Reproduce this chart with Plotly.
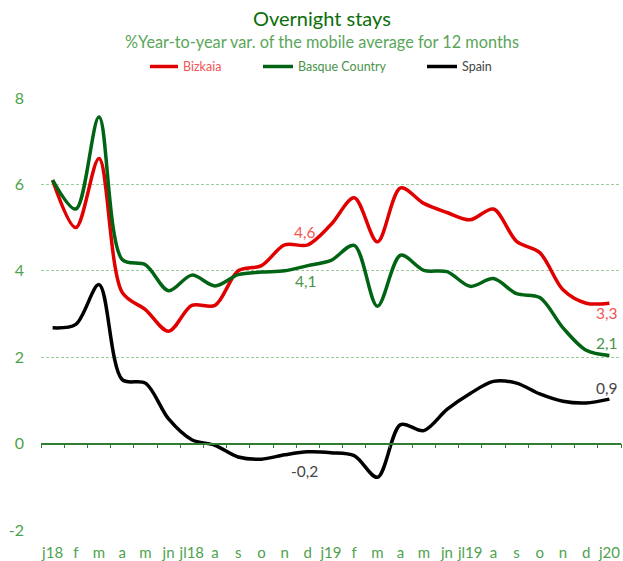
import plotly.graph_objects as go

months = ["j18", "f", "m", "a", "m", "jn", "jl18", "a", "s", "o", "n", "d",
          "j19", "f", "m", "a", "m", "jn", "jl19", "a", "s", "o", "n", "d", "j20"]

bizkaia = [6.1, 5.0, 6.6, 3.5, 3.1, 2.6, 3.2, 3.2, 4.0, 4.12, 4.6, 4.6,
           5.07, 5.69, 4.67, 5.92, 5.56, 5.35, 5.18, 5.43, 4.68, 4.42, 3.56, 3.25, 3.25]
basque = [6.1, 5.43, 7.56, 4.26, 4.14, 3.54, 3.9, 3.65, 3.91, 3.97, 4.0, 4.12,
          4.24, 4.59, 3.18, 4.36, 4.01, 3.98, 3.64, 3.82, 3.47, 3.38, 2.68, 2.16, 2.04]
spain = [2.68, 2.76, 3.68, 1.48, 1.4, 0.57, 0.09, -0.04, -0.31, -0.36, -0.26, -0.19,
         -0.21, -0.28, -0.78, 0.44, 0.3, 0.79, 1.16, 1.44, 1.4, 1.15, 0.98, 0.94, 1.03]

y_ticks = [-2, 0, 2, 4, 6, 8]

names = ["Bizkaia", "Basque Country", "Spain"]
line_colors = ["#e00000", "#006414", "#000000"]
text_colors = ["#f25555", "#4a944a", "#454545"]

FONT = "Lato, 'Open Sans', sans-serif"
GRID = "#9ccb9c"
AXIS_LINE = "#2e7d32"
TICK_TEXT = "#4ea24e"

W, H = 623, 561
ML, MR, MT, MB = 41, 2, 98, 31
PW, PH = W - ML - MR, H - MT - MB


def fx(px):
    return (px - ML) / PW


def fy(py):
    return (H - MB - py) / PH


x = list(range(len(months)))
fig = go.Figure()
for name, vals, lc in zip(names, [bizkaia, basque, spain], line_colors):
    fig.add_trace(go.Scatter(
        x=x, y=vals, mode="lines", name=name, showlegend=False,
        line=dict(color=lc, width=3.5, shape="spline", smoothing=0.9),
        hoverinfo="skip",
    ))

# invisible trace so the x-axis line at y=0 with boundary ticks is drawn
fig.add_trace(go.Scatter(x=x, y=[None] * len(x), xaxis="x2", showlegend=False,
                         hoverinfo="skip"))

# data labels
labels = [
    (11, bizkaia[11], "4,6", text_colors[0], -3, 13),
    (11, basque[11], "4,1", text_colors[1], -2, -15),
    (11, spain[11], "-0,2", text_colors[2], -3, -19),
    (24, bizkaia[24], "3,3", text_colors[0], -2, -10),
    (24, basque[24], "2,1", text_colors[1], -2, 12),
    (24, spain[24], "0,9", text_colors[2], -2, 11),
]
for xi, yv, txt, col, xs, ys in labels:
    fig.add_annotation(x=xi, y=yv, text=txt, showarrow=False, xshift=xs, yshift=ys,
                       font=dict(family=FONT, size=15.5, color=col))

# titles
fig.add_annotation(xref="paper", yref="paper", x=fx(322), y=fy(18), text="Overnight stays",
                   showarrow=False, xanchor="center", yanchor="middle",
                   font=dict(family=FONT, size=20, color="#0b6e0b"))
fig.add_annotation(xref="paper", yref="paper", x=fx(322), y=fy(41),
                   text="%Year-to-year var. of the mobile average for 12 months",
                   showarrow=False, xanchor="center", yanchor="middle",
                   font=dict(family=FONT, size=16.3, color="#5aa65a"))

# legend (drawn manually)
leg_y = 66.5
leg_items = [(150, 178, 181), (263, 293, 296), (427, 457, 460)]
for (x0, x1, xt), name, lc, tc in zip(leg_items, names, line_colors, text_colors):
    fig.add_shape(type="line", xref="paper", yref="paper", x0=fx(x0), x1=fx(x1),
                  y0=fy(leg_y), y1=fy(leg_y), line=dict(color=lc, width=3.5))
    fig.add_annotation(xref="paper", yref="paper", x=fx(xt), y=fy(leg_y), text=name,
                       showarrow=False, xanchor="left", yanchor="middle",
                       font=dict(family=FONT, size=12.5, color=tc))

fig.update_layout(
    width=W, height=H,
    paper_bgcolor="white", plot_bgcolor="white",
    margin=dict(l=ML, r=MR, t=MT, b=MB, autoexpand=False),
    showlegend=False,
    xaxis=dict(
        range=[-0.5, 24.5], tickmode="array", tickvals=x, ticktext=months,
        showgrid=False, zeroline=False, showline=False, ticks="",
        ticklabelstandoff=12, automargin=False,
        tickfont=dict(family=FONT, size=15, color=TICK_TEXT),
    ),
    xaxis2=dict(
        overlaying="x", anchor="free", position=0.2, side="bottom",
        range=[-0.5, 24.5], tickmode="array",
        tickvals=[i - 0.5 for i in range(len(months) + 1)],
        showticklabels=False, ticks="outside", ticklen=4, tickcolor=AXIS_LINE, tickwidth=1,
        showline=True, linecolor=AXIS_LINE, linewidth=1.5, showgrid=False, zeroline=False,
    ),
    yaxis=dict(
        range=[-2, 8], tickmode="array", tickvals=y_ticks, ticktext=[str(v) for v in y_ticks],
        showgrid=True, gridcolor=GRID, griddash="3px,2px", gridwidth=1,
        zeroline=False, showline=False, ticks="", automargin=False,
        ticklabelstandoff=16,
        tickfont=dict(family=FONT, size=16, color=TICK_TEXT),
    ),
)

fig.write_html("out.html", config={"displayModeBar": False},
               post_script="document.body.style.margin='0px';")
